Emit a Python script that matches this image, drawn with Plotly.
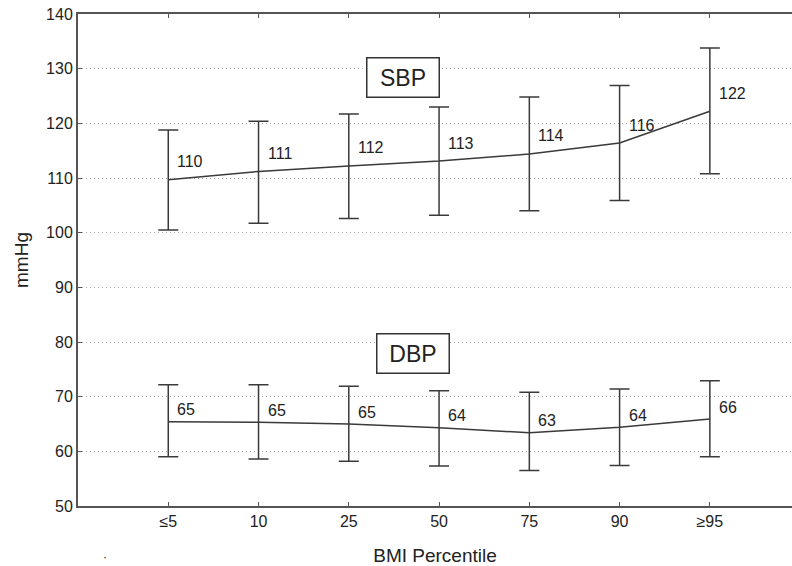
import plotly.graph_objects as go

# BMI percentile groups on the x axis
percentiles = ["≤5", "10", "25", "50", "75", "90", "≥95"]

# Systolic blood pressure (mmHg): mean and lower/upper whisker ends
sbp_mean = [109.7, 111.2, 112.2, 113.1, 114.4, 116.4, 122.2]
sbp_upper = [118.8, 120.4, 121.7, 123.0, 124.8, 126.9, 133.8]
sbp_lower = [100.5, 101.7, 102.6, 103.2, 104.0, 105.9, 110.8]

# Diastolic blood pressure (mmHg)
dbp_mean = [65.4, 65.3, 65.0, 64.3, 63.4, 64.4, 65.9]
dbp_upper = [72.2, 72.2, 71.9, 71.1, 70.8, 71.4, 72.9]
dbp_lower = [59.0, 58.6, 58.2, 57.3, 56.5, 57.4, 59.0]

y_ticks = list(range(50, 141, 10))

FONT = "Liberation Sans, Arial, Helvetica, sans-serif"
INK = "#222222"
LINE = "#3a3a3a"

fig = go.Figure()


def add_series(means, lows, highs):
    fig.add_trace(go.Scatter(
        x=percentiles,
        y=means,
        mode="lines",
        line=dict(color=LINE, width=1.5),
        error_y=dict(
            type="data",
            symmetric=False,
            array=[h - m for h, m in zip(highs, means)],
            arrayminus=[m - l for m, l in zip(means, lows)],
            color=LINE,
            thickness=1.5,
            width=10,
        ),
        showlegend=False,
        hoverinfo="skip",
    ))


add_series(sbp_mean, sbp_lower, sbp_upper)
add_series(dbp_mean, dbp_lower, dbp_upper)

annotations = []
# value labels beside each whisker (category index used as x position)
for means, lift in ((sbp_mean, 18), (dbp_mean, 12)):
    for i, v in enumerate(means):
        annotations.append(dict(
            x=i, y=v, xref="x", yref="y",
            text=f"{round(v)}", showarrow=False,
            xanchor="left", yanchor="middle",
            xshift=7, yshift=lift,
            font=dict(family=FONT, size=16, color=INK),
        ))

# boxed series names
for name, xpos, ypos in (("SBP", 2.6, 128.3), ("DBP", 2.71, 77.9)):
    annotations.append(dict(
        x=xpos, y=ypos, xref="x", yref="y",
        text=name, showarrow=False,
        xanchor="center", yanchor="middle",
        width=71, height=38, borderpad=0,
        bordercolor="#333333", borderwidth=1.5, bgcolor="white",
        font=dict(family=FONT, size=23, color=INK),
    ))

# small stray dot below the axis, bottom left
annotations.append(dict(
    x=(105 - 78) / 714, y=-(557 - 506) / 492, xref="paper", yref="paper",
    text="·", showarrow=False, xanchor="center", yanchor="middle",
    font=dict(family=FONT, size=12, color=INK),
))

fig.update_layout(
    width=792,
    height=566,
    margin=dict(l=78, r=0, t=14, b=60),
    paper_bgcolor="white",
    plot_bgcolor="white",
    font=dict(family=FONT, size=16, color=INK),
    annotations=annotations,
    xaxis=dict(
        type="category",
        categoryorder="array",
        categoryarray=percentiles,
        range=[-1, 6.91],
        showgrid=False,
        zeroline=False,
        showline=True,
        linecolor="#555555",
        linewidth=2,
        mirror="ticks",
        ticks="inside",
        ticklen=4,
        tickcolor="#555555",
        tickfont=dict(family=FONT, size=16, color=INK),
        title=dict(text="BMI Percentile", standoff=21,
                   font=dict(family=FONT, size=19, color=INK)),
    ),
    yaxis=dict(
        range=[50, 140],
        tickvals=y_ticks,
        showgrid=True,
        gridcolor="#a8a8a8",
        gridwidth=1,
        griddash="1px,3px",
        zeroline=False,
        showline=True,
        linecolor="#555555",
        linewidth=2,
        mirror=False,
        ticks="inside",
        ticklen=4,
        tickcolor="#555555",
        tickfont=dict(family=FONT, size=16, color=INK),
        title=dict(text="mmHg", standoff=12,
                   font=dict(family=FONT, size=19, color=INK)),
    ),
)

fig.write_html("out.html")
